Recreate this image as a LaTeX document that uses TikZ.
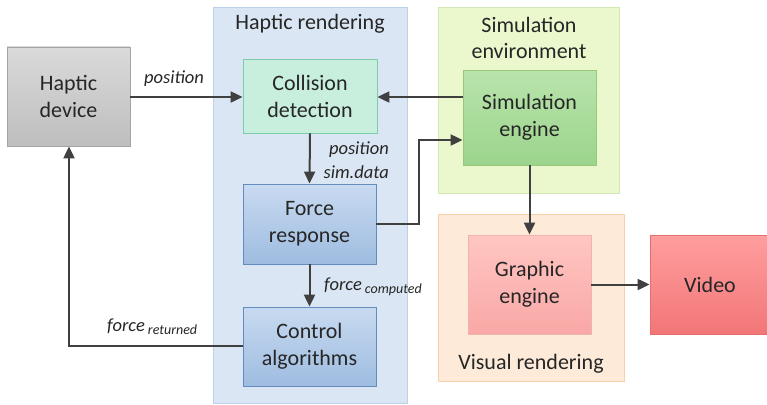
\documentclass[tikz,border=0pt]{standalone}
\usepackage{fontspec}
\setmainfont{Carlito}
\usetikzlibrary{arrows.meta}
\definecolor{arrowgray}{HTML}{404040}
\tikzset{
  box/.style={draw, line width=0.8pt, minimum width=#1, align=center,
    font=\fontsize{22}{27}\selectfont, text=black!85, inner sep=0pt},
  group/.style={draw, line width=0.8pt, inner sep=0pt},
  title/.style={font=\fontsize{22}{26}\selectfont, text=black!85, align=center},
  lbl/.style={font=\fontsize{18.5}{24}\selectfont\itshape, text=black!85, align=left, inner sep=0pt},
  sub/.style={font=\fontsize{14}{16}\selectfont\itshape},
  conn/.style={draw=arrowgray, line width=2pt,
    -{Triangle[length=12pt,width=11pt]}},
}
\newcommand{\lowsub}[1]{{\fontsize{14}{16}\selectfont\raisebox{-3pt}{#1}}}
\begin{document}
\begin{tikzpicture}[x=1pt,y=-1pt]
\useasboundingbox (0,0) rectangle (767,404);

% grouping panels
\node[group, minimum width=194, minimum height=396, fill={rgb,255:red,218;green,230;blue,243}, draw={rgb,255:red,188;green,208;blue,232}] (hr) at (310,205) {};
\node[group, minimum width=181, minimum height=186, fill={rgb,255:red,235;green,248;blue,205}, draw={rgb,255:red,210;green,232;blue,180}] (se) at (528.5,100) {};
\node[group, minimum width=186, minimum height=167, fill={rgb,255:red,253;green,234;blue,216}, draw={rgb,255:red,248;green,208;blue,170}] (vr) at (531,297.5) {};

\node[title] (hrt) at (310,24) {Haptic rendering};
\node[title] (set) at (529,37.5) {Simulation\\environment};
\node[title] (vrt) at (531,364) {Visual rendering};

% blocks
\node[box=123, minimum height=99, top color={rgb,255:red,218;green,218;blue,218}, bottom color={rgb,255:red,190;green,190;blue,190}, draw={rgb,255:red,165;green,165;blue,165}] (hd) at (68.5,96.5) {Haptic\\device};
\node[box=134, minimum height=74, fill={rgb,255:red,200;green,239;blue,222}, draw={rgb,255:red,125;green,205;blue,170}] (cd) at (310,96) {Collision\\detection};
\node[box=133, minimum height=80, top color={rgb,255:red,200;green,218;blue,240}, bottom color={rgb,255:red,158;green,188;blue,224}, draw={rgb,255:red,100;green,140;blue,190}] (fr) at (309.5,224) {Force\\response};
\node[box=133, minimum height=79, top color={rgb,255:red,200;green,218;blue,240}, bottom color={rgb,255:red,158;green,188;blue,224}, draw={rgb,255:red,100;green,140;blue,190}] (ca) at (309.5,346.5) {Control\\algorithms};
\node[box=133, minimum height=95, top color={rgb,255:red,185;green,228;blue,172}, bottom color={rgb,255:red,155;green,212;blue,140}, draw={rgb,255:red,150;green,200;blue,120}] (sim) at (529.5,117.5) {Simulation\\engine};
\node[box=123, minimum height=99, top color={rgb,255:red,255;green,198;blue,194}, bottom color={rgb,255:red,249;green,168;blue,166}, draw={rgb,255:red,240;green,180;blue,175}] (ge) at (529.5,284.5) {Graphic\\engine};
\node[box=120, minimum height=99, top color={rgb,255:red,255;green,158;blue,158}, bottom color={rgb,255:red,242;green,118;blue,120}, draw={rgb,255:red,230;green,110;blue,110}] (vid) at (710,284.5) {Video};

% connectors
\draw[conn] (hd.east |- 0,97) -- (cd.west |- 0,97);
\node[lbl] (lpos) at (174,79) {position};

\draw[conn] (sim.west |- 0,97) -- (cd.east |- 0,97);

\draw[conn] (cd.south) -- (fr.north);
\node[lbl, align=right, anchor=east] (lsim) at (389,160) {position\\sim.data};

\coordinate (bend) at (419,224);
\draw[conn] (fr.east) -- (bend) |- (sim.west |- 0,140);

\draw[conn] (fr.south) -- (ca.north);
\node[lbl, anchor=west] (lfc) at (324,287) {force\,\lowsub{computed}};

\coordinate (corner) at (69,346);
\draw[conn] (ca.west |- 0,346) -- (corner) -- (hd.south -| corner);
\node[lbl, anchor=west] (lfr) at (107,327) {force\,\lowsub{returned}};

\draw[conn] (sim.south) -- (ge.north);
\draw[conn] (ge.east) -- (vid.west);
\end{tikzpicture}
\end{document}
